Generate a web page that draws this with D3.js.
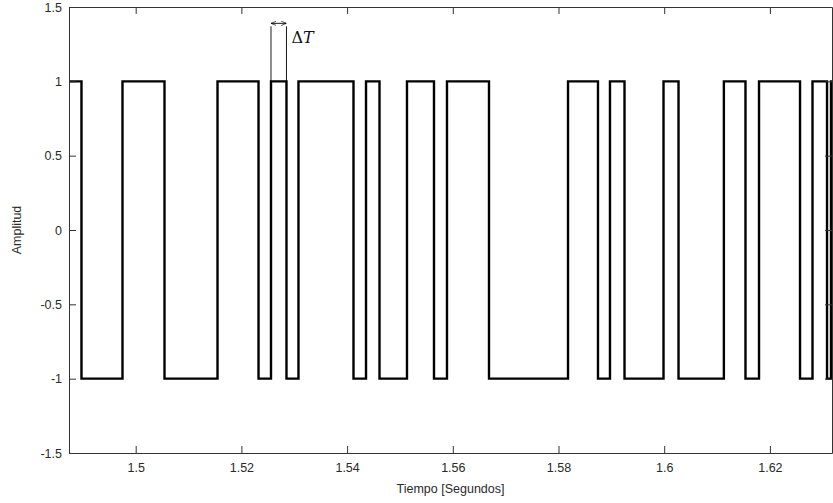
<!DOCTYPE html>
<html>
<head>
<meta charset="utf-8">
<script src="https://cdn.jsdelivr.net/npm/d3@7"></script>
<style>
    body { margin: 0; background: #fff; }
    svg { display: block; font-family: Arial, "Liberation Sans", sans-serif; }
</style>
</head>
<body>
<svg width="833" height="503"></svg>
<script>
// signal: starts high, then toggles at each edge time
var startTime = 1.48738;
var endTime = 1.63175;
var startLevel = 1;
var edgeTimes = [1.48974, 1.4975, 1.50545, 1.51548, 1.52324, 1.52560, 1.52853, 1.53080,
    1.54121, 1.54358, 1.54613, 1.55133, 1.55644, 1.55890, 1.56685, 1.58180,
    1.58747, 1.58974, 1.59249, 1.59987, 1.60271, 1.61129, 1.61538, 1.61794,
    1.62570, 1.62806, 1.63081, 1.63156];
var edgeLevels = [-1, 1, -1, 1, -1, 1, -1, 1,
    -1, 1, -1, 1, -1, 1, -1, 1,
    -1, 1, -1, 1, -1, 1, -1, 1,
    -1, 1, -1, 1];

var xTicks = [1.5, 1.52, 1.54, 1.56, 1.58, 1.6, 1.62];
var xTickLabels = ['1.5', '1.52', '1.54', '1.56', '1.58', '1.6', '1.62'];
var yTicks = [-1.5, -1, -0.5, 0, 0.5, 1, 1.5];
var yTickLabels = ['-1.5', '-1', '-0.5', '0', '0.5', '1', '1.5'];

// delta T marker spans one short pulse
var deltaT = [1.52560, 1.52853];
var deltaTop = 1.39;

var svg = d3.select('svg');
var margin = { top: 7, right: 1, bottom: 50, left: 69 };
var width = svg.attr('width') - margin.left - margin.right;
var height = svg.attr('height') - margin.top - margin.bottom;

var g = svg.append('g')
    .attr('transform', 'translate(' + margin.left + ',' + margin.top + ')');

var xScale = d3.scaleLinear().domain([startTime, endTime]).range([0, width]);
var yScale = d3.scaleLinear().domain([-1.5, 1.5]).range([height, 0]);

var points = [[startTime, startLevel]];
edgeTimes.forEach(function (t, i) { points.push([t, edgeLevels[i]]); });
points.push([endTime, edgeLevels[edgeLevels.length - 1]]);

g.append('clipPath').attr('id', 'clip')
    .append('rect').attr('width', width).attr('height', height);

g.append('path')
    .datum(points)
    .attr('clip-path', 'url(#clip)')
    .attr('d', d3.line()
        .x(function (d) { return xScale(d[0]); })
        .y(function (d) { return yScale(d[1]); })
        .curve(d3.curveStepAfter))
    .attr('fill', 'none')
    .attr('stroke', '#000')
    .attr('stroke-width', 2.4);

// axes, ticks pointing inward like matlab
function styleAxis(sel) {
    sel.selectAll('path, line').attr('stroke', '#333').attr('stroke-width', 1);
    sel.selectAll('text').attr('fill', '#2a2a2a').style('font-size', '12.5px');
}

g.append('g')
    .attr('transform', 'translate(0,' + height + ')')
    .call(d3.axisBottom(xScale).tickValues(xTicks).tickSizeInner(-7).tickSizeOuter(0).tickPadding(10)
        .tickFormat(function (d, i) { return xTickLabels[i]; }))
    .call(styleAxis);

g.append('g')
    .call(d3.axisTop(xScale).tickValues(xTicks).tickSizeInner(-7).tickSizeOuter(0).tickFormat(''))
    .call(styleAxis);

g.append('g')
    .call(d3.axisLeft(yScale).tickValues(yTicks).tickSizeInner(-7).tickSizeOuter(0).tickPadding(7)
        .tickFormat(function (d, i) { return yTickLabels[i]; }))
    .call(styleAxis);

g.append('g')
    .attr('transform', 'translate(' + width + ',0)')
    .call(d3.axisRight(yScale).tickValues(yTicks).tickSizeInner(-7).tickSizeOuter(0).tickFormat(''))
    .call(styleAxis);

// labels
svg.append('text')
    .attr('x', margin.left + width / 2)
    .attr('y', 493)
    .attr('text-anchor', 'middle')
    .attr('fill', '#2a2a2a')
    .style('font-size', '12.5px')
    .text('Tiempo [Segundos]');

svg.append('text')
    .attr('transform', 'translate(21,' + (margin.top + height / 2) + ') rotate(-90)')
    .attr('text-anchor', 'middle')
    .attr('fill', '#2a2a2a')
    .style('font-size', '12.5px')
    .text('Amplitud');

// delta T annotation
svg.append('defs').append('marker')
    .attr('id', 'arrow')
    .attr('viewBox', '0 0 10 10')
    .attr('refX', 10).attr('refY', 5)
    .attr('markerWidth', 6).attr('markerHeight', 6)
    .attr('orient', 'auto-start-reverse')
    .append('path')
    .attr('d', 'M0,1 L10,5 L0,9')
    .attr('fill', 'none')
    .attr('stroke', '#000')
    .attr('stroke-width', 1.2);

deltaT.forEach(function (t) {
    g.append('line')
        .attr('x1', xScale(t)).attr('x2', xScale(t))
        .attr('y1', yScale(1)).attr('y2', yScale(deltaTop - 0.02))
        .attr('stroke', '#000')
        .attr('stroke-width', 0.9);
});

g.append('line')
    .attr('x1', xScale(deltaT[0])).attr('x2', xScale(deltaT[1]))
    .attr('y1', yScale(deltaTop)).attr('y2', yScale(deltaTop))
    .attr('stroke', '#000')
    .attr('stroke-width', 0.9)
    .attr('marker-start', 'url(#arrow)')
    .attr('marker-end', 'url(#arrow)');

var dtText = g.append('text')
    .attr('x', xScale(deltaT[1]) + 5)
    .attr('y', yScale(1.26))
    .attr('fill', '#111')
    .style('font-family', '"DejaVu Serif", "Liberation Serif", serif')
    .style('font-size', '16px');
dtText.append('tspan').text('\u0394');
dtText.append('tspan').style('font-style', 'italic').text('T');
</script>
</body>
</html>
